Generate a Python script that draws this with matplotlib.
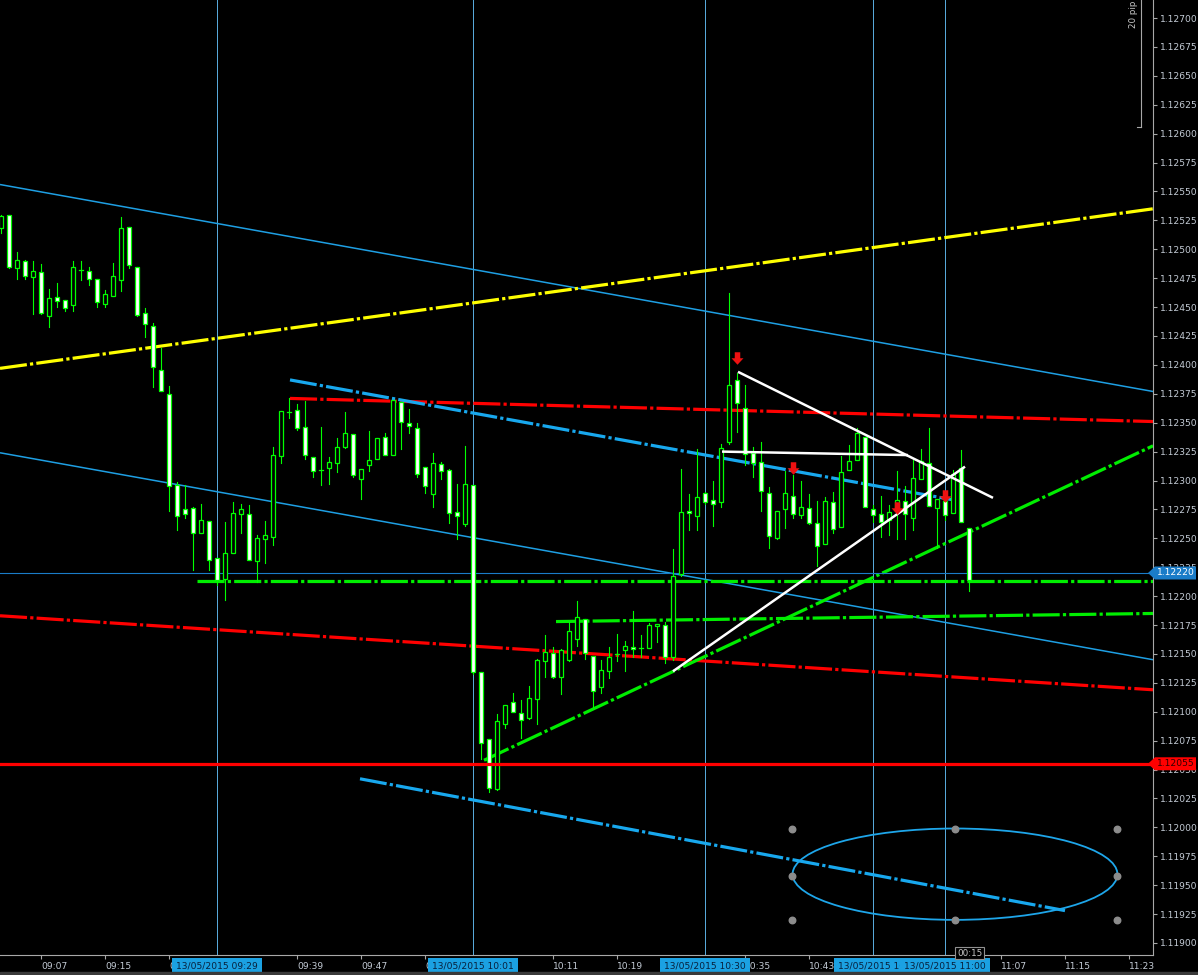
import matplotlib
matplotlib.use('Agg')
import matplotlib.pyplot as plt
import matplotlib.transforms as mtransforms
from matplotlib.patches import Rectangle, Ellipse, Polygon
from matplotlib.lines import Line2D
from matplotlib.path import Path

plt.rcParams['font.family'] = ['DejaVu Sans']
plt.rcParams['lines.scale_dashes'] = False

# EURUSD 1 minute candles, 13/05/2015, minute index counted from 09:00
first_minute = 2
opens = [1.12518, 1.12530, 1.12484, 1.12490, 1.12476, 1.12480, 1.12442, 1.12459, 1.12456, 1.12452,
         1.12482, 1.12481, 1.12474, 1.12453, 1.12460, 1.12473, 1.12519, 1.12485, 1.12445, 1.12434,
         1.12396, 1.12375, 1.12296, 1.12275, 1.12276, 1.12255, 1.12265, 1.12233, 1.12215, 1.12237,
         1.12271, 1.12271, 1.12230, 1.12249, 1.12251, 1.12321, 1.12359, 1.12361, 1.12346, 1.12320,
         1.12309, 1.12311, 1.12315, 1.12329, 1.12340, 1.12301, 1.12313, 1.12319, 1.12338, 1.12322,
         1.12368, 1.12350, 1.12345, 1.12312, 1.12288, 1.12314, 1.12309, 1.12273, 1.12262, 1.12296,
         1.12134, 1.12076, 1.12033, 1.12089, 1.12108, 1.12099, 1.12095, 1.12111, 1.12144, 1.12151,
         1.12130, 1.12145, 1.12163, 1.12180, 1.12148, 1.12121, 1.12135, 1.12150, 1.12153, 1.12156,
         1.12155, 1.12155, 1.12174, 1.12175, 1.12147, 1.12219, 1.12274, 1.12269, 1.12289, 1.12283,
         1.12281, 1.12333, 1.12387, 1.12363, 1.12324, 1.12316, 1.12289, 1.12250, 1.12275, 1.12287,
         1.12270, 1.12276, 1.12263, 1.12245, 1.12281, 1.12260, 1.12309, 1.12318, 1.12338, 1.12275,
         1.12271, 1.12266, 1.12274, 1.12282, 1.12268, 1.12301, 1.12315, 1.12276, 1.12282, 1.12272,
         1.12311, 1.12259]
highs = [1.12530, 1.12530, 1.12498, 1.12491, 1.12490, 1.12487, 1.12466, 1.12471, 1.12456, 1.12490,
         1.12490, 1.12485, 1.12474, 1.12465, 1.12488, 1.12528, 1.12519, 1.12485, 1.12449, 1.12436,
         1.12415, 1.12382, 1.12299, 1.12296, 1.12277, 1.12280, 1.12265, 1.12233, 1.12264, 1.12281,
         1.12280, 1.12279, 1.12253, 1.12265, 1.12329, 1.12360, 1.12371, 1.12366, 1.12369, 1.12320,
         1.12346, 1.12320, 1.12337, 1.12359, 1.12340, 1.12310, 1.12343, 1.12337, 1.12341, 1.12370,
         1.12368, 1.12362, 1.12350, 1.12312, 1.12324, 1.12316, 1.12310, 1.12297, 1.12330, 1.12296,
         1.12134, 1.12076, 1.12098, 1.12106, 1.12116, 1.12110, 1.12122, 1.12146, 1.12166, 1.12156,
         1.12154, 1.12178, 1.12196, 1.12180, 1.12148, 1.12145, 1.12156, 1.12167, 1.12161, 1.12187,
         1.12166, 1.12177, 1.12176, 1.12178, 1.12241, 1.12310, 1.12288, 1.12327, 1.12290, 1.12300,
         1.12332, 1.12462, 1.12393, 1.12383, 1.12329, 1.12333, 1.12294, 1.12274, 1.12308, 1.12305,
         1.12300, 1.12288, 1.12282, 1.12286, 1.12290, 1.12321, 1.12331, 1.12345, 1.12338, 1.12279,
         1.12287, 1.12279, 1.12308, 1.12295, 1.12318, 1.12327, 1.12345, 1.12284, 1.12287, 1.12309,
         1.12326, 1.12259]
lows = [1.12514, 1.12484, 1.12474, 1.12474, 1.12444, 1.12444, 1.12433, 1.12450, 1.12447, 1.12447,
        1.12473, 1.12469, 1.12450, 1.12450, 1.12460, 1.12464, 1.12484, 1.12442, 1.12424, 1.12381,
        1.12377, 1.12274, 1.12257, 1.12268, 1.12223, 1.12255, 1.12223, 1.12210, 1.12197, 1.12237,
        1.12255, 1.12231, 1.12212, 1.12229, 1.12244, 1.12315, 1.12354, 1.12344, 1.12319, 1.12303,
        1.12296, 1.12297, 1.12307, 1.12328, 1.12303, 1.12284, 1.12308, 1.12319, 1.12322, 1.12322,
        1.12327, 1.12341, 1.12303, 1.12289, 1.12277, 1.12301, 1.12263, 1.12249, 1.12261, 1.12133,
        1.12059, 1.12031, 1.12032, 1.12086, 1.12100, 1.12077, 1.12094, 1.12089, 1.12130, 1.12129,
        1.12115, 1.12144, 1.12157, 1.12146, 1.12104, 1.12116, 1.12129, 1.12144, 1.12135, 1.12147,
        1.12147, 1.12155, 1.12160, 1.12142, 1.12145, 1.12217, 1.12257, 1.12257, 1.12280, 1.12261,
        1.12277, 1.12332, 1.12342, 1.12313, 1.12303, 1.12274, 1.12242, 1.12249, 1.12259, 1.12268,
        1.12268, 1.12262, 1.12226, 1.12245, 1.12255, 1.12260, 1.12309, 1.12318, 1.12277, 1.12264,
        1.12251, 1.12253, 1.12249, 1.12249, 1.12257, 1.12301, 1.12278, 1.12242, 1.12266, 1.12272,
        1.12264, 1.12204]
closes = [1.12529, 1.12485, 1.12491, 1.12477, 1.12481, 1.12445, 1.12458, 1.12455, 1.12449, 1.12485,
          1.12482, 1.12474, 1.12454, 1.12461, 1.12477, 1.12518, 1.12486, 1.12443, 1.12435, 1.12398,
          1.12377, 1.12295, 1.12269, 1.12271, 1.12255, 1.12266, 1.12231, 1.12214, 1.12237, 1.12272,
          1.12275, 1.12231, 1.12250, 1.12253, 1.12322, 1.12360, 1.12359, 1.12345, 1.12322, 1.12308,
          1.12309, 1.12316, 1.12329, 1.12341, 1.12305, 1.12310, 1.12318, 1.12337, 1.12322, 1.12370,
          1.12351, 1.12347, 1.12306, 1.12295, 1.12315, 1.12308, 1.12272, 1.12269, 1.12297, 1.12134,
          1.12073, 1.12034, 1.12092, 1.12106, 1.12100, 1.12093, 1.12112, 1.12145, 1.12152, 1.12130,
          1.12153, 1.12170, 1.12182, 1.12151, 1.12118, 1.12136, 1.12147, 1.12150, 1.12157, 1.12154,
          1.12155, 1.12175, 1.12176, 1.12147, 1.12217, 1.12273, 1.12272, 1.12286, 1.12281, 1.12280,
          1.12328, 1.12383, 1.12367, 1.12323, 1.12315, 1.12291, 1.12252, 1.12274, 1.12289, 1.12271,
          1.12277, 1.12263, 1.12243, 1.12282, 1.12258, 1.12307, 1.12317, 1.12341, 1.12277, 1.12270,
          1.12264, 1.12273, 1.12283, 1.12271, 1.12302, 1.12317, 1.12278, 1.12284, 1.12270, 1.12306,
          1.12264, 1.12214]

# drawn objects: (minute, price) end points
channel_upper = [(1.875, 1.12556), (146.0, 1.12377)]
channel_lower = [(1.875, 1.12324), (146.0, 1.12145)]
yellow_line = [(1.875, 1.12397), (146.0, 1.12535)]
red_upper = [(38.125, 1.12371), (146.0, 1.12351)]
red_lower = [(1.875, 1.12183), (146.0, 1.12119)]
green_flat = [(26.5, 1.12213), (146.0, 1.12213)]
green_upper = [(71.375, 1.12178), (146.0, 1.12185)]
green_rising = [(62.375, 1.12058), (146.0, 1.12330)]
blue_dd_upper = [(38.125, 1.12387), (121.25, 1.12283)]
blue_dd_lower = [(46.875, 1.12042), (135.0, 1.11928)]
white_down = [(94.125, 1.12394), (126.0, 1.12285)]
white_flat = [(92.125, 1.12325), (115.375, 1.12322)]
white_up = [(86.0, 1.12135), (122.5, 1.12312)]

support_level = 1.12055
current_price = 1.12220

arrow_minutes = [94, 101, 114, 120]
arrow_prices = [1.12406, 1.12311, 1.12276, 1.12287]

ellipse_center = (121.25, 1.119595)
ellipse_w = 40.6
ellipse_h = 0.00079
handle_x = [100.875, 121.25, 141.5, 100.875, 141.5, 100.875, 121.25, 141.5]
handle_y = [1.11999, 1.11999, 1.11999, 1.11958, 1.11958, 1.11920, 1.11920, 1.11920]

vline_minutes = [29, 61, 90, 111, 120]
vline_labels = ['13/05/2015 09:29', '13/05/2015 10:01', '13/05/2015 10:30',
                '13/05/2015 10:', '13/05/2015 11:00']

# time scale labels that are not hidden behind the marker labels
tick_minutes = [7, 15, 23, 39, 47, 55, 71, 79, 95, 103, 127, 135, 143]
tick_labels = ['09:07', '09:15', '09:23', '09:39', '09:47', '09:55', '10:11',
               '10:19', '10:35', '10:43', '11:07', '11:15', '11:23']

GREEN = '#00ff00'
BLUE = '#1e9fe3'
RED = '#ff0000'
AXIS = '#a8a8a8'
LABEL = '#c4ccd6'
DASHDOT = (0, (19.5, 2.3, 2.3, 2.3))

fig = plt.figure(figsize=(11.98, 9.75), dpi=100, facecolor='black')
ax = fig.add_axes([0, 20 / 975, 1153 / 1198, 955 / 975])
ax.set_facecolor('black')
ax.set_xlim(1.875, 146.0)
ax.set_ylim(1.118896, 1.127156)

# vertical time markers
for m in vline_minutes:
    ax.axvline(m, color='#5aaee0', lw=0.7, zorder=1)

def seg(pts, **kw):
    ax.plot([pts[0][0], pts[1][0]], [pts[0][1], pts[1][1]], solid_capstyle='butt', **kw)

seg(channel_upper, color=BLUE, lw=1.1, zorder=2)
seg(channel_lower, color=BLUE, lw=1.1, zorder=2)
seg(yellow_line, color='#ffff00', lw=2.3, linestyle=DASHDOT, zorder=2)
seg(red_upper, color=RED, lw=2.3, linestyle=DASHDOT, zorder=2)
seg(red_lower, color=RED, lw=2.3, linestyle=DASHDOT, zorder=2)
seg(green_flat, color='#00ee00', lw=2.3, linestyle=DASHDOT, zorder=2)
seg(green_upper, color='#00ee00', lw=2.3, linestyle=DASHDOT, zorder=2)
seg(green_rising, color='#00ee00', lw=2.3, linestyle=DASHDOT, zorder=2)
seg(blue_dd_upper, color='#18a8ee', lw=2.3, linestyle=DASHDOT, zorder=2)
seg(blue_dd_lower, color='#18a8ee', lw=2.3, linestyle=DASHDOT, zorder=2)
ax.axhline(current_price, color='#1a7cc8', lw=0.8, zorder=2)

# candles
for i in range(len(opens)):
    m = first_minute + i
    o, h, l, c = opens[i], highs[i], lows[i], closes[i]
    ax.plot([m, m], [l, h], color=GREEN, lw=0.8, zorder=4)
    if abs(c - o) < 0.000005:
        ax.plot([m - 0.3, m + 0.3], [o, o], color=GREEN, lw=0.9, zorder=5)
        continue
    face = 'white' if c < o else 'black'
    ax.add_patch(Rectangle((m - 0.3, min(o, c)), 0.6, abs(c - o), facecolor=face,
                           edgecolor=GREEN, lw=0.9, zorder=5))

ax.axhline(support_level, color=RED, lw=2.3, zorder=6)
seg(white_down, color='white', lw=1.8, zorder=6)
seg(white_flat, color='white', lw=1.8, zorder=6)
seg(white_up, color='white', lw=1.8, zorder=6)

arrow = Path([(-0.22, 0.5), (0.22, 0.5), (0.22, 0.02), (0.48, 0.02), (0, -0.5),
              (-0.48, 0.02), (-0.22, 0.02), (-0.22, 0.5)], closed=True)
ax.plot(arrow_minutes, arrow_prices, linestyle='none', marker=arrow, markersize=9,
        color='#ee1111', markeredgewidth=0, zorder=7)

ax.add_patch(Ellipse(ellipse_center, ellipse_w, ellipse_h, fill=False, ec='#1ea6ea', lw=1.3, zorder=3))
ax.scatter(handle_x, handle_y, s=22, color='#8c8c8c', zorder=8)

# axes styling
for s in ['top', 'left']:
    ax.spines[s].set_visible(False)
ax.spines['right'].set_color(AXIS)
ax.spines['bottom'].set_color(AXIS)
ax.yaxis.tick_right()
yt = [1.119 + 0.00025 * k for k in range(33)]
ax.set_yticks(yt)
ax.set_yticklabels(['%.5f' % v for v in yt])
ax.set_xticks(tick_minutes)
ax.set_xticklabels(tick_labels)
for lab in ax.get_xticklabels():
    lab.set_ha('left')
ax.tick_params(axis='y', colors=AXIS, labelcolor=LABEL, labelsize=6.6, length=3, width=0.8, pad=2)
ax.tick_params(axis='x', colors=AXIS, labelcolor=LABEL, labelsize=6.6, length=3, width=0.8, pad=2)

# time labels of the vertical markers
for m, lab in zip(vline_minutes, vline_labels):
    ax.text(m, -0.0118, lab, transform=ax.get_xaxis_transform(), ha='center', va='center',
            fontsize=6.6, color='#08203c', clip_on=False, zorder=10,
            bbox=dict(boxstyle='square,pad=0.4', fc='#1ba1e2', ec='none'))

# countdown box
ax.text(123.1, 0.002, '00:15', transform=ax.get_xaxis_transform(), ha='center', va='center',
        fontsize=6.3, color='#c8c8c8', clip_on=False, zorder=10,
        bbox=dict(boxstyle='square,pad=0.2', fc='black', ec='#909090', lw=0.8))

# price tags on the right scale
tr = mtransforms.blended_transform_factory(fig.transFigure, ax.transData)
dy = 6.5 * 0.000008649
for price, fc, tc in [(current_price, '#1a7cc8', 'white'), (support_level, RED, '#300000')]:
    pts = [(1148 / 1198, price), (1155 / 1198, price + dy), (1196 / 1198, price + dy),
           (1196 / 1198, price - dy), (1155 / 1198, price - dy)]
    ax.add_patch(Polygon(pts, closed=True, transform=tr, fc=fc, ec='none', clip_on=False, zorder=11))
    ax.text(1175.5 / 1198, price, '%.5f' % price, transform=tr, ha='center', va='center',
            fontsize=6.6, color=tc, clip_on=False, zorder=12)

# 20 pip ruler
fig.add_artist(Line2D([1141 / 1198, 1141 / 1198], [1, 1 - 127 / 975], color=AXIS, lw=0.8))
fig.add_artist(Line2D([1137 / 1198, 1141 / 1198], [1 - 127 / 975, 1 - 127 / 975], color=AXIS, lw=0.8))
fig.text(1134 / 1198, 1 - 14 / 975, '20 pip', rotation=90, ha='center', va='center',
         fontsize=6.3, color='#c8c8c8')

fig.patches.append(Rectangle((0, 0), 1, 3 / 975, transform=fig.transFigure, color='#3a3a3a'))

fig.savefig('out.png', dpi=100, facecolor='black')
